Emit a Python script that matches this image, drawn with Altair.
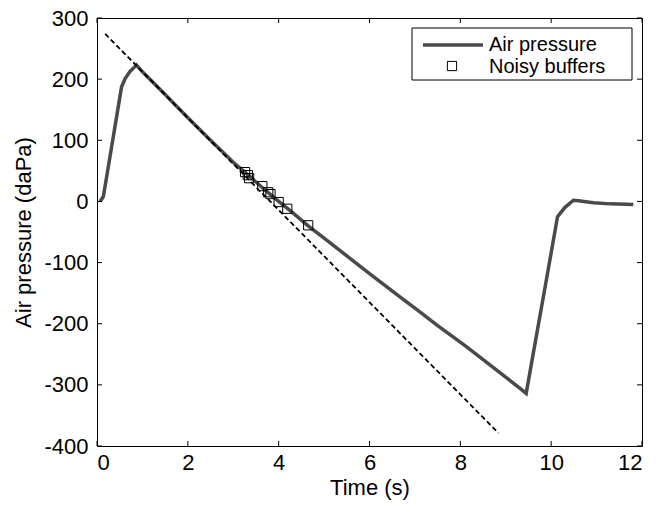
import altair as alt
import pandas as pd

# Air pressure trace
time_s = [0.07, 0.14, 0.54, 0.62, 0.72, 0.87, 1.0, 1.5, 2.0, 2.5, 3.0, 3.3, 3.65,
          4.0, 4.3, 4.65, 5.0, 5.5, 6.0, 6.67, 7.08, 7.5, 8.14, 8.8, 9.3, 9.45,
          9.6, 9.9, 10.14, 10.3, 10.49, 10.6, 10.93, 11.3, 11.81]
pressure = [0, 8, 187, 201, 212, 223, 212, 175, 137, 100, 64, 45, 22,
            0, -18, -40, -60, -89, -118, -156, -179, -203, -238, -276, -305, -314,
            -251, -126, -25, -10, 2, 1, -2, -4, -5]

# Noisy buffers
buf_time = [3.26, 3.32, 3.35, 3.64, 3.77, 3.82, 4.00, 4.19, 4.65]
buf_pressure = [48, 43, 38, 25, 15, 12, -1, -12, -39]

# Dashed fit line
fit_time = [0.18, 8.84]
fit_pressure = [274, -379]

x_ticks = [0, 2, 4, 6, 8, 10, 12]
y_ticks = [-400, -300, -200, -100, 0, 100, 200, 300]
legend_labels = ["Air pressure", "Noisy buffers"]

FONT = "Liberation Sans"
W, H = 545, 428

xs = alt.Scale(domain=[0, 12], nice=False, zero=False)
ys = alt.Scale(domain=[-400, 300], nice=False, zero=False)

xax = alt.Axis(values=x_ticks, grid=False, ticks=False, domain=False, labelFontSize=22,
               labelFont=FONT, labelColor="black", labelPadding=6, titleFontSize=22,
               titleFont=FONT, titleFontWeight="normal", titleColor="black", titlePadding=4,
               labelExpr="datum.value + ''")
yax = alt.Axis(values=y_ticks, grid=False, ticks=False, domain=False, labelFontSize=22,
               labelFont=FONT, labelColor="black", labelPadding=9, titleFontSize=22,
               titleFont=FONT, titleFontWeight="normal", titleColor="black", titlePadding=8,
               labelExpr="datum.value + ''")

trace = pd.DataFrame({"t": time_s, "p": pressure})
bufs = pd.DataFrame({"t": buf_time, "p": buf_pressure})
fit = pd.DataFrame({"t": fit_time, "p": fit_pressure})
xt = pd.DataFrame({"t": x_ticks})
yt = pd.DataFrame({"p": y_ticks})
one = pd.DataFrame({"a": [0]})

line = alt.Chart(trace).mark_line(color="#4a4a4a", strokeWidth=3.5).encode(
    x=alt.X("t:Q", scale=xs, axis=xax, title="Time (s)"),
    y=alt.Y("p:Q", scale=ys, axis=yax, title="Air pressure (daPa)"),
    order="t:Q",
)
dashed = alt.Chart(fit).mark_line(color="black", strokeWidth=1.8, strokeDash=[5, 3]).encode(
    x=alt.X("t:Q", scale=xs), y=alt.Y("p:Q", scale=ys))
pts = alt.Chart(bufs).mark_point(shape="square", filled=False, color="black",
                                 strokeWidth=1, size=85, opacity=1).encode(
    x=alt.X("t:Q", scale=xs), y=alt.Y("p:Q", scale=ys))

tl = 5
tick_b = alt.Chart(xt).mark_rule(color="black", strokeWidth=1).encode(
    x=alt.X("t:Q", scale=xs), y=alt.value(H), y2=alt.value(H - tl))
tick_t = alt.Chart(xt).mark_rule(color="black", strokeWidth=1).encode(
    x=alt.X("t:Q", scale=xs), y=alt.value(0), y2=alt.value(tl))
tick_l = alt.Chart(yt).mark_rule(color="black", strokeWidth=1).encode(
    y=alt.Y("p:Q", scale=ys), x=alt.value(0), x2=alt.value(tl))
tick_r = alt.Chart(yt).mark_rule(color="black", strokeWidth=1).encode(
    y=alt.Y("p:Q", scale=ys), x=alt.value(W), x2=alt.value(W - tl))

# Legend
lbox = alt.Chart(one).mark_rect(fill="white", stroke="black", strokeWidth=1).encode(
    x=alt.value(315), x2=alt.value(535), y=alt.value(10), y2=alt.value(62))
lline = alt.Chart(one).mark_rule(color="#4a4a4a", strokeWidth=3.5).encode(
    x=alt.value(326), x2=alt.value(386), y=alt.value(27))
lsq = alt.Chart(one).mark_point(shape="square", filled=False, color="black",
                                strokeWidth=1, size=85, opacity=1).encode(
    x=alt.value(355), y=alt.value(48))
ltxt1 = alt.Chart(one).mark_text(align="left", baseline="middle", fontSize=20, font=FONT,
                                 color="black", text=legend_labels[0]).encode(
    x=alt.value(392), y=alt.value(27))
ltxt2 = alt.Chart(one).mark_text(align="left", baseline="middle", fontSize=20, font=FONT,
                                 color="black", text=legend_labels[1]).encode(
    x=alt.value(392), y=alt.value(49))

chart = alt.layer(line, dashed, pts, tick_b, tick_t, tick_l, tick_r,
                  lbox, lline, lsq, ltxt1, ltxt2).properties(
    width=W, height=H,
    autosize=alt.AutoSizeParams(type="none"),
    padding={"left": 97, "top": 18, "right": 23, "bottom": 60},
    background="white",
).configure_view(stroke="black", strokeWidth=1)

chart.save("out.html", embed_options={"renderer": "svg", "actions": False})
